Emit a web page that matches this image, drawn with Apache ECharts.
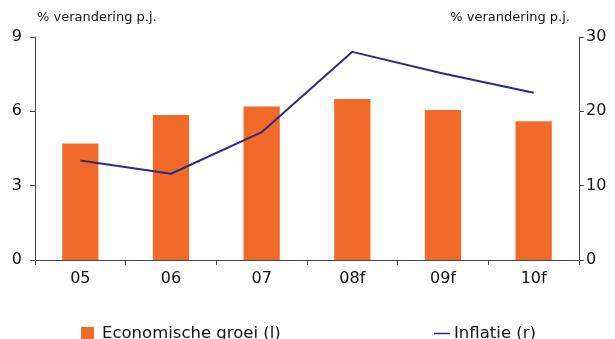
<!DOCTYPE html>
<html>
<head>
<meta charset="utf-8">
<script src="https://cdn.jsdelivr.net/npm/echarts@6/dist/echarts.min.js"></script>
<style>
  html, body { margin: 0; padding: 0; background: #fff; }
  #chart { width: 615px; height: 339px; }
</style>
</head>
<body>
<div id="chart"></div>
<script>
// Years (f = forecast)
const categories = ['05', '06', '07', '08f', '09f', '10f'];
// Economic growth, % change per year (left axis)
const groei = [4.7, 5.85, 6.2, 6.5, 6.05, 5.6];
// Inflation, % change per year (right axis)
const inflatie = [13.4, 11.6, 17.2, 28.0, 25.1, 22.5];
// Axis tick settings
const leftTicks = { min: 0, max: 9, interval: 3 };
const rightTicks = { min: 0, max: 30, interval: 10 };

const font = 'DejaVu Sans, Verdana, sans-serif';
const axisColor = '#4a4a4a';
const orange = '#F26A2A';
const navy = '#2E2B84';

const chart = echarts.init(document.getElementById('chart'), null, { renderer: 'canvas' });
chart.setOption({
  animation: false,
  grid: { left: 35, right: 36, top: 37, bottom: 79, containLabel: false },
  legend: [
    {
      left: 81, top: 325, padding: 0,
      itemWidth: 13, itemHeight: 13, itemGap: 10,
      textStyle: { fontFamily: font, fontSize: 16.5, color: '#111', padding: [0, 0, 0, 3] },
      data: [{ name: 'Economische groei (l)', icon: 'rect' }]
    },
    {
      left: 434, top: 325, padding: 0,
      itemWidth: 16, itemHeight: 13, itemGap: 2,
      textStyle: { fontFamily: font, fontSize: 16.5, color: '#111', padding: [0, 0, 0, -1] },
      data: [{ name: 'Inflatie (r)', icon: 'path://M0,6 L16,6 L16,7.5 L0,7.5 Z' }]
    }
  ],
  xAxis: {
    type: 'category',
    data: categories,
    axisLine: { lineStyle: { color: axisColor, width: 1 } },
    axisTick: { show: true, length: 5, lineStyle: { color: axisColor } },
    axisLabel: { fontFamily: font, fontSize: 16, color: '#111', margin: 11 }
  },
  yAxis: [
    {
      type: 'value', position: 'left',
      min: leftTicks.min, max: leftTicks.max, interval: leftTicks.interval,
      name: '% verandering p.j.',
      nameLocation: 'end', nameGap: 13,
      nameTextStyle: { fontFamily: font, fontSize: 13, color: '#111', align: 'left', padding: [0, 0, 0, 2] },
      axisLine: { show: true, lineStyle: { color: axisColor, width: 1 } },
      axisTick: { show: true, length: 5, lineStyle: { color: axisColor } },
      axisLabel: { fontFamily: font, fontSize: 16, color: '#111', margin: 13 },
      splitLine: { show: false }
    },
    {
      type: 'value', position: 'right',
      min: rightTicks.min, max: rightTicks.max, interval: rightTicks.interval,
      name: '% verandering p.j.',
      nameLocation: 'end', nameGap: 13,
      nameTextStyle: { fontFamily: font, fontSize: 13, color: '#111', align: 'right', padding: [0, 9, 0, 0] },
      axisLine: { show: true, lineStyle: { color: axisColor, width: 1 } },
      axisTick: { show: true, length: 5, lineStyle: { color: axisColor } },
      axisLabel: { fontFamily: font, fontSize: 16, color: '#111', margin: 7 },
      splitLine: { show: false }
    }
  ],
  series: [
    {
      name: 'Economische groei (l)',
      type: 'bar',
      yAxisIndex: 0,
      data: groei,
      barWidth: '40%',
      itemStyle: { color: orange }
    },
    {
      name: 'Inflatie (r)',
      type: 'line',
      yAxisIndex: 1,
      data: inflatie,
      symbol: 'none',
      lineStyle: { color: navy, width: 2 },
      itemStyle: { color: navy }
    }
  ]
});
</script>
</body>
</html>
